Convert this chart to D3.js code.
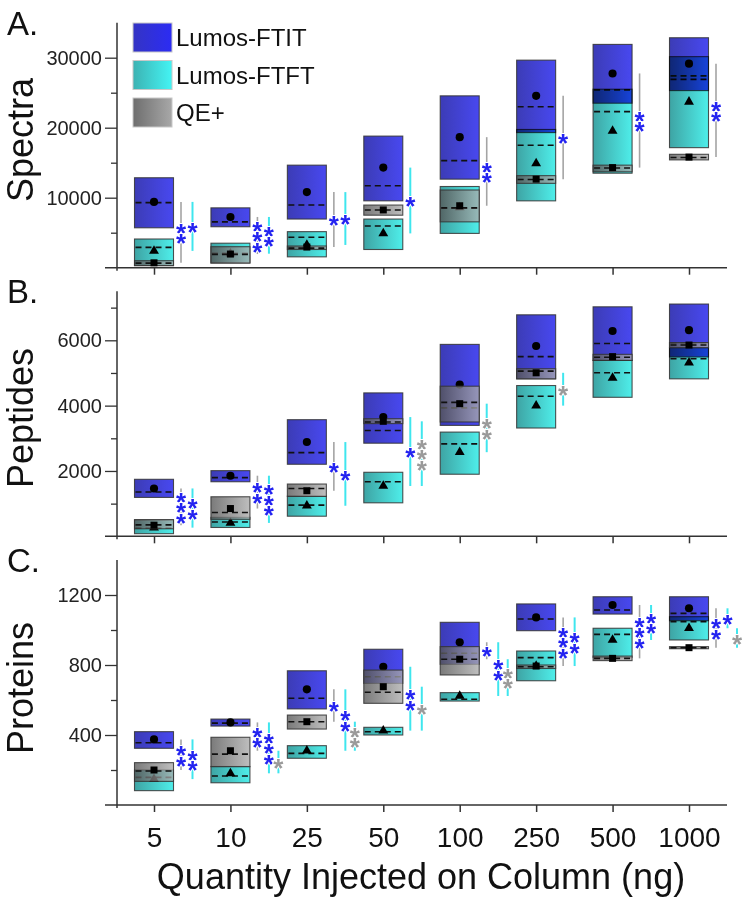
<!DOCTYPE html>
<html><head><meta charset="utf-8">
<script src="https://cdn.jsdelivr.net/npm/d3@7"></script>
<style>body{margin:0;background:#fff} text{font-family:"Liberation Sans",Arial,sans-serif}</style>
</head><body><svg id="c" width="750" height="900"></svg>
<script>
// ---------- DATA ----------
const categories = ["5","10","25","50","100","250","500","1000"];
const seriesNames = {IT:"Lumos-FTIT", FT:"Lumos-FTFT", QE:"QE+"};
// each entry: [low, high, median, mean]
const spectraFTIT = [[5700,12850,9300,9400],[5850,8550,6550,7250],[6950,14650,8950,10800],[9550,18800,11700,14300],[12650,24550,15300,18650],[19300,29650,23000,24550],[23500,31900,25400,27750],[25300,32850,27400,29150]];
const spectraFTFT = [[300,4100,2900,2400],[700,3500,2050,2000],[1550,5150,4350,3250],[2600,6950,5950,4900],[4900,11600,8500,8600],[9550,19750,17500,14900],[13500,25500,22300,19550],[17150,30150,26900,23700]];
const spectraQE   = [[300,1000,650,700],[650,3000,1900,1950],[2600,3100,2800,2950],[7500,8950,8250,8250],[6550,11100,8550,8850],[12050,13150,12600,12650],[13700,14650,14250,14300],[15400,16200,15750,15800]];

const peptidesFTIT = [[1190,1745,1355,1465],[1670,2010,1795,1855],[2205,3570,2560,2885],[2850,4390,3240,3650],[3395,5875,3930,4645],[4820,6780,5500,5825],[5385,7025,5900,6285],[5490,7110,5910,6310]];
const peptidesFTFT = [[80,500,250,265],[270,580,440,410],[615,1230,955,935],[1025,1960,1670,1540],[1900,3190,2830,2575],[3315,4615,4285,4000],[4255,5385,5005,4850],[4820,5775,5435,5315]];
const peptidesQE   = [[230,510,350,340],[520,1210,730,850],[1220,1600,1465,1395],[3450,3600,3500,3520],[3500,4595,4100,4060],[4820,5130,5055,5005],[5385,5570,5480,5500],[5775,5930,5855,5855]];

const proteinsFTIT = [[324,419,356,375],[451,491,468,472],[549,767,610,661],[695,890,733,790],[804,1044,867,930],[996,1149,1063,1072],[1091,1190,1114,1143],[1053,1190,1095,1124]];
const proteinsFTFT = [[82,200,158,148],[127,220,166,181],[267,339,295,310],[400,444,419,425],[594,642,604,623],[710,880,842,794],[844,1010,975,943],[943,1076,1048,1010]];
const proteinsQE   = [[135,242,194,200],[219,387,291,310],[434,514,476,476],[581,771,644,676],[743,905,833,833],[780,800,790,794],[825,851,838,838],[893,905,899,899]];

// significance: [category index, series A, series B, number of stars, star colour series]
const sigSpectra = [[0,"IT","QE",2,"IT"],[0,"IT","FT",1,"IT"],[1,"IT","QE",3,"IT"],[1,"IT","FT",2,"IT"],[2,"IT","QE",1,"IT"],[2,"IT","FT",1,"IT"],[3,"IT","FT",1,"IT"],[4,"IT","QE",2,"IT"],[5,"IT","QE",1,"IT"],[6,"IT","QE",2,"IT"],[7,"IT","QE",2,"IT"]];
const sigPeptides = [[0,"IT","QE",3,"IT"],[0,"IT","FT",2,"IT"],[1,"IT","QE",2,"IT"],[1,"IT","FT",3,"IT"],[2,"IT","QE",1,"IT"],[2,"IT","FT",1,"IT"],[3,"IT","FT",1,"IT"],[3,"QE","FT",3,"QE"],[4,"QE","FT",2,"QE"],[5,"QE","FT",1,"QE"]];
const sigProteins = [[0,"IT","QE",2,"IT"],[0,"IT","FT",2,"IT"],[1,"IT","QE",2,"IT"],[1,"IT","FT",3,"IT"],[1,"QE","FT",1,"QE"],[2,"IT","QE",1,"IT"],[2,"IT","FT",2,"IT"],[2,"QE","FT",2,"QE"],[3,"IT","FT",2,"IT"],[3,"QE","FT",1,"QE"],[4,"IT","QE",1,"IT"],[4,"IT","FT",2,"IT"],[4,"QE","FT",2,"QE"],[5,"IT","QE",3,"IT"],[5,"IT","FT",2,"IT"],[6,"IT","QE",3,"IT"],[6,"IT","FT",2,"IT"],[7,"IT","QE",2,"IT"],[7,"IT","FT",1,"IT"],[7,"QE","FT",1,"QE"]];

const spectraTicks = [10000,20000,30000], spectraMinor = [5000,15000,25000];
const peptidesTicks = [2000,4000,6000], peptidesMinor = [1000,3000,5000,7000];
const proteinsTicks = [400,800,1200], proteinsMinor = [200,600,1000];
const xTitle = "Quantity Injected on Column (ng)";

// ---------- DRAWING ----------
const svg = d3.select("#c");
svg.append("rect").attr("width",750).attr("height",900).attr("fill","#fff");
const defs = svg.append("defs");
function grad(id,c1,c2){
  const g = defs.append("linearGradient").attr("id",id).attr("x1","0%").attr("x2","100%").attr("y1","0%").attr("y2","0%");
  g.append("stop").attr("offset","0%").attr("stop-color",c1);
  g.append("stop").attr("offset","100%").attr("stop-color",c2);
}
grad("gIT","#3c3cb6","#4848f0");
grad("gFT","#3ea4a4","#4eeeea");
grad("gQE","#555555","#acacac");
grad("lIT","#3434c4","#2c2cf4");
grad("lFT","#3cb2b2","#44f4f4");
grad("lQE","#6e6e6e","#a8a8a8");

const x = d3.scalePoint().domain(categories).range([154, 689]);
const boxW = 39;
const st = {
  FT:{fill:"url(#gFT)", blend:"normal", op:1, sym:d3.symbolTriangle, size:42},
  IT:{fill:"url(#gIT)", blend:"multiply", op:1, sym:d3.symbolCircle, size:52},
  QE:{fill:"url(#gQE)", blend:"normal", op:0.78, sym:d3.symbolSquare, size:49}
};
const slotOff = [27, 38.5, 48];
const starColor = {IT:"#2323f0", QE:"#9a9a9a"};
const lineColor = {QE:"#a4a4a4", FT:"#3fe6ee"};
const starSize = 26, starStep = 10.5, starShift = 14.6;

const panels = [
  {letter:"A.", title:"Spectra", d:{IT:spectraFTIT,FT:spectraFTFT,QE:spectraQE}, sig:sigSpectra, max:35000, ticks:spectraTicks, minor:spectraMinor, zero:267.7, titleY:140, letterY:35},
  {letter:"B.", title:"Peptides", d:{IT:peptidesFTIT,FT:peptidesFTFT,QE:peptidesQE}, sig:sigPeptides, max:7500, ticks:peptidesTicks, minor:peptidesMinor, zero:536.3, titleY:418, letterY:303},
  {letter:"C.", title:"Proteins", d:{IT:proteinsFTIT,FT:proteinsFTFT,QE:proteinsQE}, sig:sigProteins, max:1400, ticks:proteinsTicks, minor:proteinsMinor, zero:805, titleY:688, letterY:572}
];
const axisX = 117, axisColor = "#333";

panels.forEach((p,pi)=>{
  const top = p.zero - 245;
  const y = d3.scaleLinear().domain([0,p.max]).range([p.zero, top]);
  const g = svg.append("g");

  ["FT","IT","QE"].forEach(k=>{
    const s = st[k];
    const sg = g.append("g").style("mix-blend-mode", s.blend);
    const data = p.d[k].map((v,i)=>({c:categories[i], lo:v[0], hi:v[1], med:v[2], mean:v[3]}));
    sg.selectAll("rect").data(data).join("rect")
      .attr("x",d=>x(d.c)-boxW/2).attr("y",d=>y(d.hi))
      .attr("width",boxW).attr("height",d=>y(d.lo)-y(d.hi))
      .attr("fill",s.fill).attr("fill-opacity",s.op)
      .attr("stroke","#333").attr("stroke-width",1.1).attr("stroke-opacity",0.85);
    sg.selectAll("line.med").data(data).join("line").attr("class","med")
      .attr("x1",d=>x(d.c)-boxW/2+1).attr("x2",d=>x(d.c)+boxW/2-1)
      .attr("y1",d=>y(d.med)).attr("y2",d=>y(d.med))
      .attr("stroke","#111").attr("stroke-width",1.6).attr("stroke-dasharray","6,4");
    sg.selectAll("path.mk").data(data).join("path").attr("class","mk")
      .attr("d", d3.symbol().type(s.sym).size(s.size))
      .attr("transform",d=>`translate(${x(d.c)},${y(d.mean)})`)
      .attr("fill","#000");
  });

  const slotCount = {};
  p.sig.forEach(r=>{
    const [ci,a,b,n,sc] = r;
    const slot = slotCount[ci] || 0; slotCount[ci] = slot+1;
    const cx = x(categories[ci]) + slotOff[slot];
    const y1 = y(p.d[a][ci][3]), y2 = y(p.d[b][ci][3]);
    const col = (a==="FT"||b==="FT") ? lineColor.FT : lineColor.QE;
    g.append("line").attr("x1",cx).attr("x2",cx).attr("y1",y1).attr("y2",y2)
      .attr("stroke",col).attr("stroke-width", col===lineColor.FT?2:1.6);
    const mid = (y1+y2)/2;
    const t = g.append("text").attr("text-anchor","middle")
      .attr("font-size",starSize).attr("font-weight","bold").attr("fill",starColor[sc])
      .attr("stroke","#fff").attr("stroke-width",2).attr("paint-order","stroke");
    for(let i=0;i<n;i++){
      t.append("tspan").attr("x",cx)
        .attr("y", mid + (i-(n-1)/2)*starStep + starShift).text("*");
    }
  });

  g.append("line").attr("x1",axisX).attr("x2",axisX).attr("y1",top).attr("y2",p.zero+3)
    .attr("stroke",axisColor).attr("stroke-width",1.5);
  g.append("line").attr("x1",105).attr("x2",727).attr("y1",p.zero).attr("y2",p.zero)
    .attr("stroke",axisColor).attr("stroke-width",1.5);

  const ya = g.append("g").attr("transform",`translate(${axisX},0)`)
    .call(d3.axisLeft(y).tickValues(p.ticks).tickSize(12).tickPadding(3).tickFormat(d3.format("d")));
  ya.select(".domain").remove();
  ya.selectAll("line").attr("stroke",axisColor).attr("stroke-width",1.3);
  ya.selectAll("text").attr("font-size",20).attr("fill","#222").attr("font-family","Liberation Sans, Arial, sans-serif");
  const ym = g.append("g").attr("transform",`translate(${axisX},0)`)
    .call(d3.axisLeft(y).tickValues(p.minor).tickSize(6).tickFormat(""));
  ym.select(".domain").remove();
  ym.selectAll("line").attr("stroke",axisColor).attr("stroke-width",1.3);

  const xa = g.append("g").attr("transform",`translate(0,${p.zero})`)
    .call(d3.axisBottom(x).tickSize(7).tickPadding(15).tickFormat(pi===2 ? (d=>d) : ""));
  xa.select(".domain").remove();
  xa.selectAll("line").attr("stroke",axisColor).attr("stroke-width",1.5);
  xa.selectAll("text").attr("font-size",28).attr("fill","#111").attr("font-family","Liberation Sans, Arial, sans-serif");

  g.append("text").attr("x",7).attr("y",p.letterY).attr("font-size",33).attr("fill","#111").text(p.letter);
  g.append("text").attr("transform",`translate(33,${p.titleY}) rotate(-90)`).attr("text-anchor","middle")
    .attr("font-size",36).attr("fill","#111").text(p.title);
});

svg.append("text").attr("x",421).attr("y",889).attr("text-anchor","middle")
  .attr("font-size",36).attr("fill","#111").text(xTitle);

const legKeys = ["IT","FT","QE"];
const leg = svg.append("g");
legKeys.forEach((k,i)=>{
  const yy = 23 + i*37.5;
  leg.append("rect").attr("x",133).attr("y",yy).attr("width",39).attr("height",29)
    .attr("fill",`url(#l${k})`).attr("stroke","#c8c8c8").attr("stroke-width",1);
  leg.append("text").attr("x",176).attr("y",yy+23).attr("font-size",24).attr("fill","#111").text(seriesNames[k]);
});
</script></body></html>
